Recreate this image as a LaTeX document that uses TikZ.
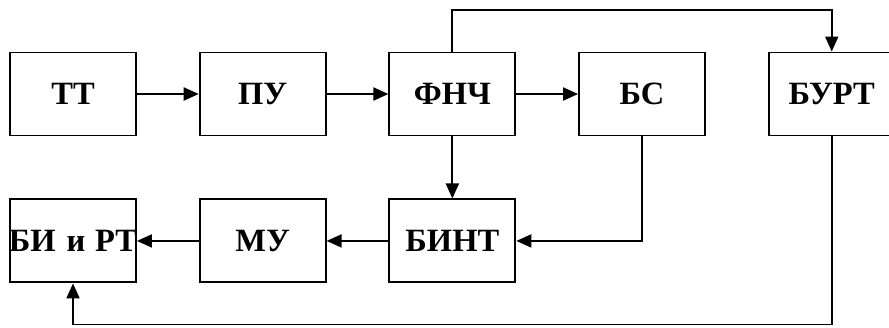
\documentclass[tikz,border=0pt]{standalone}
\usepackage{fontspec}
\setmainfont{Liberation Serif}
\usepackage{tikz}
\usetikzlibrary{arrows.meta, positioning}

\begin{document}
\begin{tikzpicture}[font=\bfseries\fontsize{18.5}{22}\selectfont,
    >={Triangle[length=0.3cm, width=0.26cm]}, line width=1.1pt,
    node distance=1.24cm and 1.235cm,
    blk/.style={draw, text width=2.46cm, align=center, inner xsep=0.03cm,
                minimum height=1.66cm}]
  \useasboundingbox (0,0) rectangle (17.78,-6.54);
  % upper row
  \node[blk] at (1.46,-1.88) (tt) {ТТ};
  \node[blk, right=of tt] (pu) {ПУ};
  \node[blk, right=of pu] (fnch) {ФНЧ};
  \node[blk, right=of fnch] (bs) {БС};
  \node[blk, right=of bs] (burt) {БУРТ};
  % lower row
  \node[blk, below=of fnch] (bint) {БИНТ};
  \node[blk, left=of bint] (mu) {МУ};
  \node[blk, left=of mu] (birt) {\makebox[\linewidth]{БИ и\hspace{0.3em}РТ}};

  \draw[->] (tt) -- (pu);
  \draw[->] (pu) -- (fnch);
  \draw[->] (fnch) -- (bs);
  \draw[->] (fnch) -- (bint);
  \draw[->] (bs.south) |- (bint.east);
  \draw[->] (bint) -- (mu);
  \draw[->] (mu) -- (birt);
  \draw[->] (fnch.north) -- ++(0,0.84) -| (burt.north);
  \draw[->] (burt.south) -- ++(0,-3.76) -| (birt.south);
\end{tikzpicture}
\end{document}
